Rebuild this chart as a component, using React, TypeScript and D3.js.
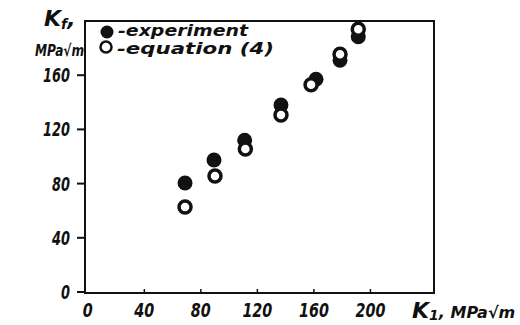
import * as d3 from "d3";

// experiment (filled) and equation (4) (open) points: K1 vs Kf, MPa·√m
const expK1 = [68.8, 89.3, 111, 136.7, 161.5, 178.5, 191.4];
const expKf = [80.4, 97.4, 112, 138, 157, 171, 188.4];
const eqK1 = [68.8, 90, 111.5, 136.7, 158, 178.5, 191.4];
const eqKf = [62.7, 85.6, 105.5, 130.6, 153, 175.4, 193.9];

const xTicks = [0, 40, 80, 120, 160, 200];
const yTicks = [0, 40, 80, 120, 160];

const W = 520;
const H = 325;
const FONT = "'DejaVu Sans', sans-serif";

export default function App() {
  const x = d3.scaleLinear().domain([-2, 245]).range([85, 434]);
  const y = d3.scaleLinear().domain([0, 200]).range([292, 21]);

  const [x0, x1] = x.range();
  const [y0, y1] = y.range();

  const label = {
    fontFamily: FONT,
    fontStyle: "italic",
    fontWeight: "bold" as const,
    fill: "#111",
  };

  return (
    <svg
      width={W}
      height={H}
      style={{ position: "absolute", left: 0, top: 0, background: "#fff" }}
    >
      {/* frame */}
      <rect
        x={x0}
        y={y1}
        width={x1 - x0}
        height={y0 + 1 - y1}
        fill="none"
        stroke="#111"
        strokeWidth={2}
      />

      {/* y ticks */}
      {yTicks.map((t) => (
        <g key={"y" + t}>
          <line x1={x0 - 8} x2={x0} y1={y(t)} y2={y(t)} stroke="#111" strokeWidth={2} />
          <text
            x={70}
            y={y(t) + 7}
            textAnchor="end"
            fontSize={19}
            textLength={String(t).length * 9}
            lengthAdjust="spacingAndGlyphs"
            {...label}
          >
            {t}
          </text>
        </g>
      ))}

      {/* x ticks */}
      {xTicks.map((t) => (
        <g key={"x" + t}>
          {t > 0 && (
            <line x1={x(t)} x2={x(t)} y1={y0 + 1} y2={y0 - 3} stroke="#111" strokeWidth={1.5} />
          )}
          <text
            x={x(t) - String(t).length * 5}
            y={317}
            fontSize={19}
            textLength={String(t).length * 10}
            lengthAdjust="spacingAndGlyphs"
            {...label}
          >
            {t}
          </text>
        </g>
      ))}

      {/* axis titles */}
      <text x={44} y={26} fontSize={22} {...label}>
        K<tspan fontSize={14} dy={3}>f</tspan>
        <tspan dy={-3}>,</tspan>
      </text>
      <text x={35} y={56} fontSize={16} textLength={49} lengthAdjust="spacingAndGlyphs" {...label}>
        MPa√m
      </text>
      <text x={412} y={318} fontSize={22} {...label}>
        K<tspan fontSize={14} dy={2}>1</tspan>
        <tspan dy={-2} fontSize={16}>, MPa√m</tspan>
      </text>

      {/* legend */}
      <circle cx={107} cy={32} r={6.5} fill="#111" />
      <text x={118} y={36} fontSize={15} textLength={130} lengthAdjust="spacingAndGlyphs" {...label}>
        -experiment
      </text>
      <circle cx={106} cy={47} r={5.5} fill="none" stroke="#111" strokeWidth={2.5} />
      <text x={117} y={54} fontSize={15} textLength={157} lengthAdjust="spacingAndGlyphs" {...label}>
        -equation (4)
      </text>

      {/* experiment points */}
      {expK1.map((v, i) => (
        <circle key={"e" + i} cx={x(v)} cy={y(expKf[i])} r={7.5} fill="#111" />
      ))}
      {/* equation (4) points */}
      {eqK1.map((v, i) => (
        <circle
          key={"q" + i}
          cx={x(v)}
          cy={y(eqKf[i])}
          r={6}
          fill="#fff"
          stroke="#111"
          strokeWidth={3.5}
        />
      ))}
    </svg>
  );
}
